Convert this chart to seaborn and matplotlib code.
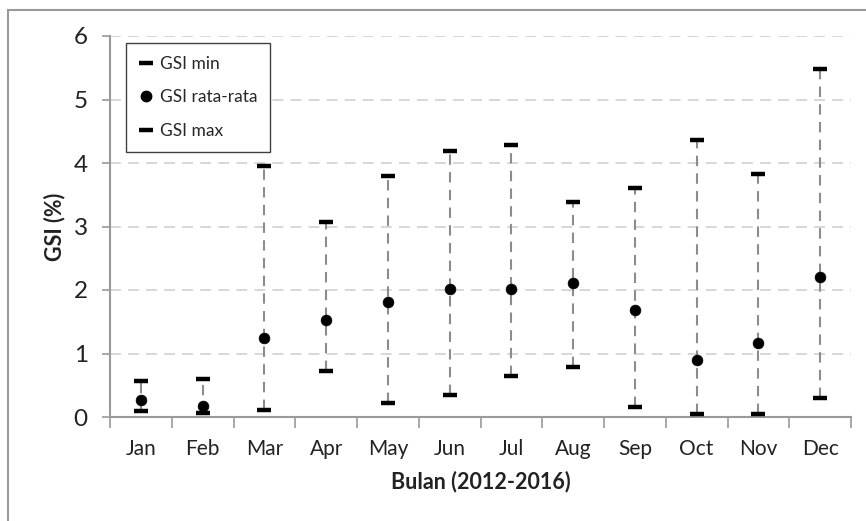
import numpy as np
import pandas as pd
import matplotlib
matplotlib.use("Agg")
import matplotlib.pyplot as plt
import seaborn as sns
from matplotlib.lines import Line2D
from matplotlib.patches import Rectangle

months = ["Jan", "Feb", "Mar", "Apr", "May", "Jun", "Jul", "Aug", "Sep", "Oct", "Nov", "Dec"]
gsi_min = [0.09, 0.07, 0.11, 0.72, 0.22, 0.35, 0.64, 0.78, 0.16, 0.05, 0.05, 0.30]
gsi_mean = [0.27, 0.17, 1.25, 1.53, 1.81, 2.01, 2.01, 2.11, 1.68, 0.90, 1.16, 2.20]
gsi_max = [0.57, 0.60, 3.96, 3.07, 3.79, 4.19, 4.28, 3.38, 3.60, 4.36, 3.82, 5.48]
yticks = [0, 1, 2, 3, 4, 5, 6]

df = pd.DataFrame({"Bulan": months, "min": gsi_min, "mean": gsi_mean, "max": gsi_max})

sns.set_theme(style="white")
plt.rcParams["font.family"] = ["Lato", "DejaVu Sans"]

fig = plt.figure(figsize=(8.66, 5.21), dpi=100)
ax = fig.add_axes([110 / 866, 1 - 417 / 521, 741 / 866, 381 / 521])

# outer chart border
fig.patches.append(Rectangle((8 / 866, -0.05), 1.1, 1 - 10 / 521 + 0.05,
                             transform=fig.transFigure, fill=False,
                             edgecolor="#9a9a9a", linewidth=1.5, zorder=0))

pos = np.arange(len(months))
ax.vlines(pos, df["min"], df["max"], colors="#8c8c8c", linestyles=(0, (5, 3.5)),
          linewidth=1.5, zorder=2)

sns.scatterplot(data=df, x="Bulan", y="min", marker="_", s=110, color="black",
                linewidth=3.2, ax=ax, zorder=3)
sns.scatterplot(data=df, x="Bulan", y="mean", marker="o", s=60, color="black",
                edgecolor="black", linewidth=0.5, ax=ax, zorder=3)
sns.scatterplot(data=df, x="Bulan", y="max", marker="_", s=110, color="black",
                linewidth=3.2, ax=ax, zorder=3)

ax.set_xlim(-0.5, len(months) - 0.5)
ax.set_ylim(0, 6)
ax.set_yticks(yticks)
ax.set_yticklabels([str(t) for t in yticks], fontsize=17.5, color="#222222")
ax.set_xticks(pos)
ax.set_xticklabels(months, fontsize=15, color="#222222")
ax.set_xticks(np.arange(-0.5, len(months)), minor=True)

ax.tick_params(axis="x", which="major", length=0, pad=16)
ax.tick_params(axis="x", which="minor", length=8, width=1.2, color="#9a9a9a", direction="out", bottom=True)
ax.tick_params(axis="y", which="major", length=6, width=1.2, color="#9a9a9a", direction="out", left=True, pad=10)

for y in yticks[1:]:
    ax.axhline(y, color="#d4d4d4", linewidth=1.3, linestyle=(0, (6, 4)), zorder=1)

for side in ["top", "right"]:
    ax.spines[side].set_visible(False)
for side in ["left", "bottom"]:
    ax.spines[side].set_color("#9a9a9a")
    ax.spines[side].set_linewidth(1.5)

ax.set_xlabel("Bulan (2012-2016)", fontsize=15.5, fontweight="bold", color="#222222", labelpad=8)
ax.set_ylabel("")
ax.text(-(110 - 55) / 741, 0.5, "GSI (%)", transform=ax.transAxes, rotation=90,
        ha="center", va="center", fontsize=15.5, fontweight="bold", color="#222222")

handles = [
    Line2D([], [], linestyle="none", marker="_", markersize=10, markeredgewidth=3.2, color="black"),
    Line2D([], [], linestyle="none", marker="o", markersize=7.5, color="black"),
    Line2D([], [], linestyle="none", marker="_", markersize=10, markeredgewidth=3.2, color="black"),
]
leg = ax.legend(handles, ["GSI min", "GSI rata-rata", "GSI max"], loc="upper left",
                bbox_to_anchor=(16 / 741, (417 - 43) / 381), borderaxespad=0,
                fontsize=12.5, labelspacing=1.0, handlelength=0.8, handletextpad=0.4,
                borderpad=0.75, fancybox=False, frameon=True, framealpha=1)
leg.get_frame().set_edgecolor("#404040")
leg.get_frame().set_linewidth(1.0)

fig.savefig("out.png", dpi=100)
